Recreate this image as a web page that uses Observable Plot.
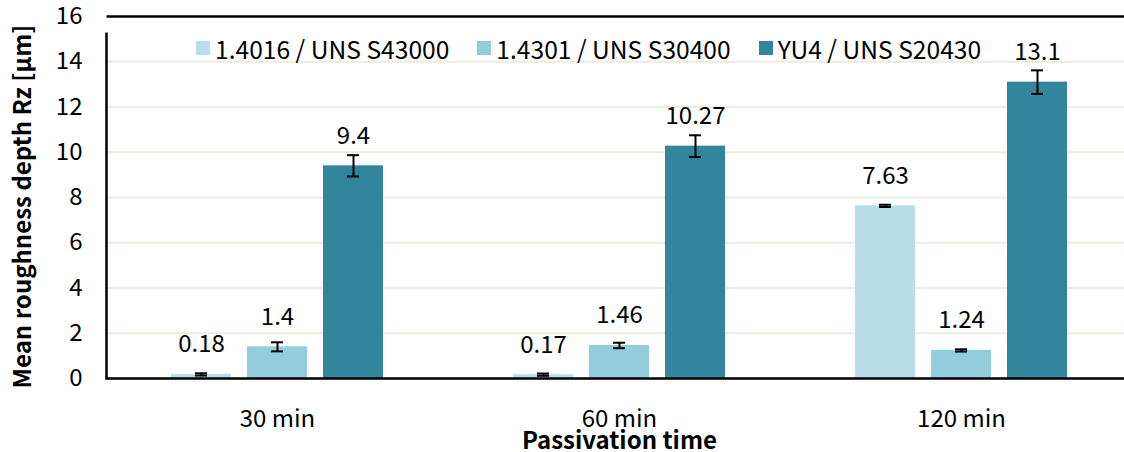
<!DOCTYPE html>
<html>
<head>
<meta charset="utf-8">
<script src="https://cdn.jsdelivr.net/npm/d3@7"></script>
<script src="https://cdn.jsdelivr.net/npm/@observablehq/plot@0.6"></script>
<style>
  html, body { margin: 0; padding: 0; background: #fff; overflow: hidden; }
  #wrap { position: relative; width: 1124px; height: 452px; overflow: hidden; }
  #legend { position: absolute; left: 196px; top: 30px; }
  #legend div, #legend span { font-family: 'Noto Sans CJK KR', sans-serif !important; font-size: 24.6px !important; color: #000 !important; }
  #legend > div { min-height: 0 !important; margin: 0 !important; }
  #legend [class$="-swatch"] { margin-right: 28px !important; }
  #legend [class$="-swatch"] > svg { margin-right: 5px !important; }
  g[aria-label="fx-axis label"] text { font-weight: bold; }
</style>
</head>
<body>
<div id="wrap"><div id="legend"></div></div>
<script>
const groups = ["30 min", "60 min", "120 min"];
const series = ["1.4016 / UNS S43000", "1.4301 / UNS S30400", "YU4 / UNS S20430"];
const colors = ["#b7dee8", "#93cddd", "#31859c"];
const valuesS43000 = [0.18, 0.17, 7.63];
const valuesS30400 = [1.4, 1.46, 1.24];
const valuesS20430 = [9.4, 10.27, 13.1];
const errorsS43000 = [0.05, 0.05, 0.05];
const errorsS30400 = [0.2, 0.12, 0.05];
const errorsS20430 = [0.47, 0.48, 0.52];
const yTicks = [0, 2, 4, 6, 8, 10, 12, 14, 16];
const gridTicks = [2, 4, 6, 8, 10, 12, 14];
const yTitle = "Mean roughness depth Rz [μm]";
const xTitle = "Passivation time";

const W = 1124, H = 452, ML = 106, MR = 0, MT = 16, MB = 74;
const fw = W - ML - MR, fh = H - MT - MB;

const allValues = [valuesS43000, valuesS30400, valuesS20430];
const allErrors = [errorsS43000, errorsS30400, errorsS20430];
const data = [];
groups.forEach((g, gi) => {
  series.forEach((s, si) => {
    const v = allValues[si][gi], e = allErrors[si][gi];
    data.push({group: g, series: s, value: v, lo: v - e, hi: v + e, label: String(v)});
  });
});

const chart = Plot.plot({
  width: W,
  height: H,
  marginLeft: ML,
  marginRight: MR,
  marginTop: MT,
  marginBottom: MB,
  style: {fontFamily: "'Noto Sans CJK KR', sans-serif", fontSize: "24px", color: "#000", background: "#fff", overflow: "hidden"},
  fx: {domain: groups, range: [ML, ML + 1026], padding: 0, axis: "bottom", tickSize: 0, tickPadding: 31,
       label: xTitle, labelAnchor: "center", labelOffset: 70},
  x: {domain: series, paddingInner: 0.2105, paddingOuter: 0.855, axis: null},
  y: {domain: [0, 16], ticks: yTicks, tickSize: 0, tickPadding: 24, label: null},
  color: {domain: series, range: colors},
  marks: [
    Plot.gridY(gridTicks, {stroke: "#eeece1", strokeOpacity: 1, strokeWidth: 2}),
    Plot.barY(data, {fx: "group", x: "series", y: "value", fill: "series"}),
    Plot.ruleX(data, {fx: "group", x: "series", y1: "lo", y2: "hi", stroke: "#000", strokeWidth: 2}),
    Plot.tickY(data, {fx: "group", x: "series", y: "lo", stroke: "#000", strokeWidth: 2, insetLeft: 24, insetRight: 24}),
    Plot.tickY(data, {fx: "group", x: "series", y: "hi", stroke: "#000", strokeWidth: 2, insetLeft: 24, insetRight: 24}),
    Plot.text(data, {fx: "group", x: "series", y: "value", text: "label", dy: -22, lineAnchor: "bottom", fontSize: 24, fill: "#000"}),
    Plot.frame({facet: "super", stroke: "#000", strokeWidth: 2.5, strokeDasharray: `${fw} ${fh} ${fw + fh}`}),
    Plot.text([yTitle], {facet: "super", frameAnchor: "left", textAnchor: "middle", rotate: -90, dx: -83, dy: 9, fontWeight: "bold", fontSize: 24, fill: "#000"})
  ]
});
document.getElementById("wrap").prepend(chart);

const legend = Plot.legend({color: {domain: series, range: colors}, legend: "swatches", swatchSize: 14, className: "lg"});
document.getElementById("legend").appendChild(legend);
</script>
</body>
</html>
